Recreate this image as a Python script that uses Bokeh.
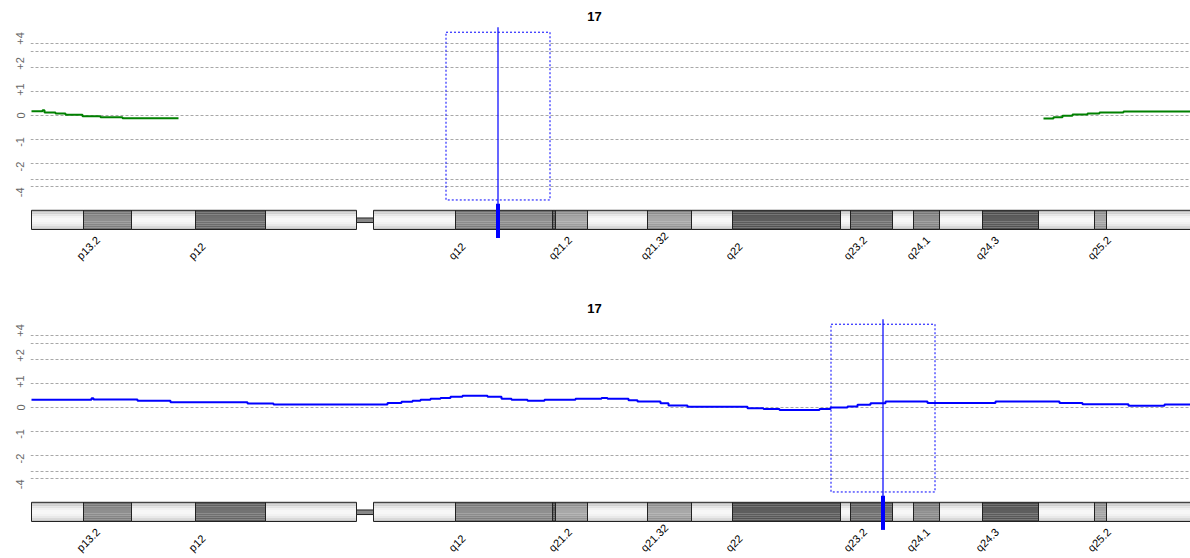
import math
from bokeh.plotting import figure
from bokeh.models import Range1d, FixedTicker, Label
from bokeh.layouts import column
from bokeh.core.properties import value
from bokeh.embed import file_html
from bokeh.resources import INLINE

# ---------------- data ----------------
chrom = "17"

# cytoband ideogram (positions along chromosome, chart units)
band_names = ["p13.3", "p13.2", "p13.1", "p12", "p11.2", "q11.2", "q12", "q21.1", "q21.2",
              "q21.31", "q21.32", "q21.33", "q22", "q23.1", "q23.2", "q23.3", "q24.1",
              "q24.2", "q24.3", "q25.1", "q25.2", "q25.3"]
band_start = [31, 83, 131, 195, 265, 373, 455, 552, 555, 587, 647, 691, 732, 840, 850, 892,
              913, 939, 982, 1038, 1094, 1106]
band_end = [83, 131, 195, 265, 356, 455, 552, 555, 587, 647, 691, 732, 840, 850, 892, 913,
            939, 982, 1038, 1094, 1106, 1190]
band_stain = ["gneg", "gpos50", "gneg", "gpos75", "gneg", "gneg", "gpos50", "gpos100", "gpos25",
              "gneg", "gpos25", "gneg", "gpos100", "gneg", "gpos75", "gneg", "gpos50", "gneg",
              "gpos100", "gneg", "gpos25", "gneg"]
centromere = [356, 373]
label_bands = ["p13.2", "p12", "q12", "q21.2", "q21.32", "q22", "q23.2", "q24.1", "q24.3", "q25.2"]

# y scale: tick labels and gridline levels
tick_pos = [3.21, 2.17, 1.08, 0.0, -1.1, -2.13, -3.2]
tick_text = ["+4", "+2", "+1", "0", "-1", "-2", "-4"]
grid_levels = [2.99, 2.667, 2.0, 1.0, 0.0, -1.0, -2.0, -2.667, -2.96]

# top panel: green profile (two pieces, p-arm start and q-arm end)
top_x1 = [31, 42, 44, 55, 65, 82, 100, 122, 178]
top_v1 = [0.18, 0.22, 0.125, 0.083, 0.03, -0.03, -0.07, -0.11, -0.11]
top_x2 = [1043, 1053, 1062, 1072, 1087, 1099, 1123, 1190]
top_v2 = [-0.125, -0.07, -0.01, 0.04, 0.083, 0.125, 0.167, 0.167]
top_sel = 497.5
top_win = [445.5, 549.5]

# bottom panel: blue profile
bot_x = [31, 91, 93, 137, 170, 247, 273, 387, 401, 412, 420, 430, 440, 450, 462, 487, 501,
         511, 527, 544, 575, 601, 607, 628, 637, 660, 668, 687, 747, 763, 779, 819, 830, 847,
         857, 870, 885, 927, 995, 1059, 1082, 1128, 1164, 1190]
bot_v = [0.32, 0.39, 0.33, 0.28, 0.22, 0.17, 0.125, 0.19, 0.24, 0.28, 0.32, 0.36, 0.40, 0.45,
         0.49, 0.45, 0.36, 0.32, 0.28, 0.32, 0.36, 0.40, 0.36, 0.30, 0.25, 0.18, 0.08, 0.03,
         -0.03, -0.06, -0.10, -0.06, 0.0, 0.04, 0.11, 0.18, 0.25, 0.19, 0.25, 0.19, 0.14, 0.07,
         0.125, 0.125]
bot_sel = 882.5
bot_win = [830.5, 934.5]

# ---------------- styling / layout constants ----------------
STAIN_GRAY = {"gneg": 0.97, "gpos25": 0.66, "gpos50": 0.56, "gpos75": 0.45, "gpos100": 0.37}
SHADE = [0.76, 0.84, 0.92, 0.98, 1.0, 1.0, 0.98, 0.94, 0.88, 0.80]
IDEO_TOP, IDEO_BOT = -3.95, -4.75
CEN_TOP, CEN_BOT = -4.27, -4.46
LABEL_Y = -5.92
FONT = "Liberation Sans"


def gray_hex(g):
    g = max(0, min(255, int(round(g * 255))))
    return "#%02x%02x%02x" % (g, g, g)


def make_panel(height, segments, line_color, sel, win):
    p = figure(width=1190, height=height, output_backend="svg", toolbar_location=None,
               title=None, x_axis_location=None,
               x_range=Range1d(30, 1190), y_range=Range1d((115 - height) / 24.0, 115 / 24.0),
               min_border_left=30, min_border_right=0, min_border_top=0, min_border_bottom=0,
               outline_line_color=None, background_fill_color="white", border_fill_color="white")
    p.xgrid.visible = False
    p.ygrid.visible = False
    ax = p.yaxis[0]
    ax.ticker = FixedTicker(ticks=tick_pos)
    ax.major_label_overrides = {t: s for t, s in zip(tick_pos, tick_text)}
    ax.major_label_orientation = "vertical"
    ax.axis_line_color = None
    ax.major_tick_line_color = None
    ax.minor_tick_line_color = None
    ax.major_tick_out = 0
    ax.major_tick_in = 0
    ax.major_label_standoff = 6
    ax.major_label_text_font = FONT
    ax.major_label_text_font_size = "11px"
    ax.major_label_text_color = "#666666"

    # dashed gridlines
    p.hspan(y=grid_levels, line_color="#a8a8a8", line_dash="3 2", line_width=1)

    # title
    p.add_layout(Label(x=594, y=4.12, text=chrom, text_align="center", text_baseline="middle",
                       text_font=FONT, text_font_size="13px", text_font_style="bold",
                       text_color="black"))

    # selection window
    p.quad(left=[win[0]], right=[win[1]], top=[3.47], bottom=[-3.52], fill_color=None,
           line_color="#0000ff", line_dash="2 2", line_width=1)

    # profile
    for xs, vs in segments:
        p.step(xs, vs, mode="after", line_color=line_color, line_width=2)

    # ideogram with shading
    L, R, T, B, C = [], [], [], [], []
    n = len(SHADE)
    h = (IDEO_TOP - IDEO_BOT) / n
    for s, e, st in zip(band_start, band_end, band_stain):
        base = STAIN_GRAY[st]
        for k, f in enumerate(SHADE):
            L.append(s); R.append(e)
            T.append(IDEO_TOP - k * h); B.append(IDEO_TOP - (k + 1) * h)
            C.append(gray_hex(base * f))
    p.quad(left=L, right=R, top=T, bottom=B, fill_color=C, line_color=None)
    p.quad(left=band_start, right=band_end, top=IDEO_TOP, bottom=IDEO_BOT,
           fill_color=None, line_color="#222222", line_width=1)
    # centromere
    p.quad(left=[centromere[0]], right=[centromere[1]], top=[CEN_TOP], bottom=[CEN_BOT],
           fill_color="#888888", line_color="#222222", line_width=1)

    # band labels
    lx = [band_start[band_names.index(b)] - 5 for b in label_bands]
    p.text(x=lx, y=[LABEL_Y] * len(lx), text=label_bands, angle=math.pi / 4,
           text_align="left", text_baseline="middle", text_font=value(FONT),
           text_font_size="11px", text_color="black")

    # selection marker
    p.segment(x0=[sel], y0=[3.68], x1=[sel], y1=[IDEO_TOP], line_color="#0000ff", line_width=1.2)
    p.quad(left=[sel - 2], right=[sel + 2], top=[-3.68], bottom=[-5.1],
           fill_color="#0000ff", line_color=None)
    return p


p1 = make_panel(292, [(top_x1, top_v1), (top_x2, top_v2)], "#008000", top_sel, top_win)
p2 = make_panel(266, [(bot_x, bot_v)], "#0000ff", bot_sel, bot_win)

layout = column(p1, p2, spacing=0)
open("out.html", "w").write(file_html(layout, INLINE))
